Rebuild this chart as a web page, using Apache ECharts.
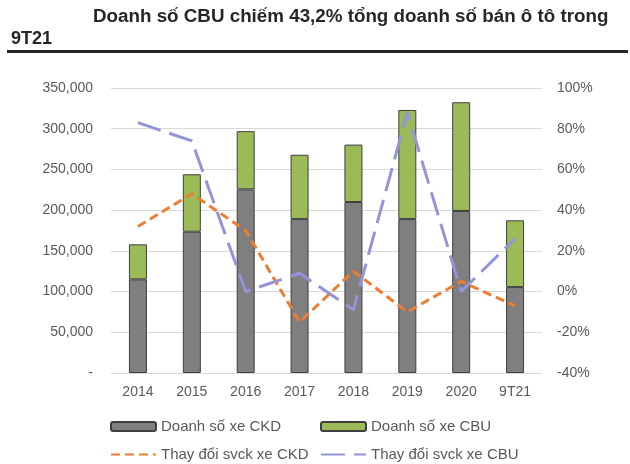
<!DOCTYPE html>
<html><head><meta charset="utf-8">
<script src="https://cdn.jsdelivr.net/npm/echarts@6/dist/echarts.min.js"></script>
<style>html,body{margin:0;padding:0;background:#fff}#c{width:630px;height:464px}</style>
</head><body><div id="c"></div>
<script>
const categories = ['2014','2015','2016','2017','2018','2019','2020','9T21'];
const ckdSales = [115000, 173500, 225500, 189000, 210000, 189000, 199000, 105500];
const cbuSales = [43000, 70500, 71500, 79000, 70500, 134000, 133500, 82000];
const ckdChange = [32, 48, 30, -15, 10, -10, 5, -7];
const cbuChange = [83, 74, 0, 9, -9, 88, 0, 26];
const leftTicks = {min: 0, max: 350000, interval: 50000};
const rightTicks = {min: -40, max: 100, interval: 20};

const font = 'Liberation Sans, Arial, sans-serif';
const txt = '#595959';
const chart = echarts.init(document.getElementById('c'));
const legendBase = {orient:'horizontal', itemWidth:45, itemHeight:9, itemGap:0,
  textStyle:{fontFamily:font, fontSize:15, color:txt}};
chart.setOption({
  animation:false,
  textStyle:{fontFamily:font},
  title:[
    {text:'Doanh số CBU chiếm 43,2% tổng doanh số bán ô tô trong', left:88, top:2,
     textStyle:{fontFamily:font, fontSize:18.8, fontWeight:'bold', color:'#262626'}},
    {text:'9T21', left:6, top:25, textStyle:{fontFamily:font, fontSize:18, fontWeight:'bold', color:'#262626'}}
  ],
  graphic:[{type:'rect', shape:{x:7, y:50, width:621, height:3}, style:{fill:'#262626'}}],
  legend:[
    Object.assign({}, legendBase, {left:105, top:414, data:['Doanh số xe CKD']}),
    Object.assign({}, legendBase, {left:315, top:414, data:['Doanh số xe CBU']}),
    Object.assign({}, legendBase, {left:105, top:442, data:[{name:'Thay đổi svck xe CKD', itemStyle:{opacity:0}}]}),
    Object.assign({}, legendBase, {left:315, top:442, data:[{name:'Thay đổi svck xe CBU', itemStyle:{opacity:0}}]})
  ],
  grid:{left:111, right:88, top:88, bottom:91},
  xAxis:{type:'category', data:categories,
    axisLine:{show:true, lineStyle:{color:'#d9d9d9'}}, axisTick:{show:false},
    axisLabel:{fontFamily:font, fontSize:14, color:txt, margin:12}},
  yAxis:[
    {type:'value', min:leftTicks.min, max:leftTicks.max, interval:leftTicks.interval,
     axisLine:{show:false}, axisTick:{show:false},
     splitLine:{lineStyle:{color:'#d9d9d9', width:1}},
     axisLabel:{fontFamily:font, fontSize:14, color:txt, margin:18,
       formatter:v => v === 0 ? '-' : v.toLocaleString('en-US')}},
    {type:'value', min:rightTicks.min, max:rightTicks.max, interval:rightTicks.interval,
     position:'right', axisLine:{show:false}, axisTick:{show:false}, splitLine:{show:false},
     axisLabel:{fontFamily:font, fontSize:14, color:txt, margin:15, formatter:'{value}%'}}
  ],
  series:[
    {name:'Doanh số xe CKD', type:'bar', stack:'s', data:ckdSales, barWidth:18,
     itemStyle:{color:'#7f7f7f', borderColor:'#3f3f3f', borderWidth:1}},
    {name:'Doanh số xe CBU', type:'bar', stack:'s', data:cbuSales, barWidth:18,
     itemStyle:{color:'#9bbb59', borderColor:'#3f3f3f', borderWidth:1}},
    {name:'Thay đổi svck xe CKD', type:'line', yAxisIndex:1, data:ckdChange, symbol:'none',
     lineStyle:{color:'#ed7d31', width:3, type:[9,5]}, itemStyle:{color:'#ed7d31'}},
    {name:'Thay đổi svck xe CBU', type:'line', yAxisIndex:1, data:cbuChange, symbol:'none',
     lineStyle:{color:'#9494d8', width:3, type:[24,9]}, itemStyle:{color:'#9494d8'}}
  ]
});
</script></body></html>
